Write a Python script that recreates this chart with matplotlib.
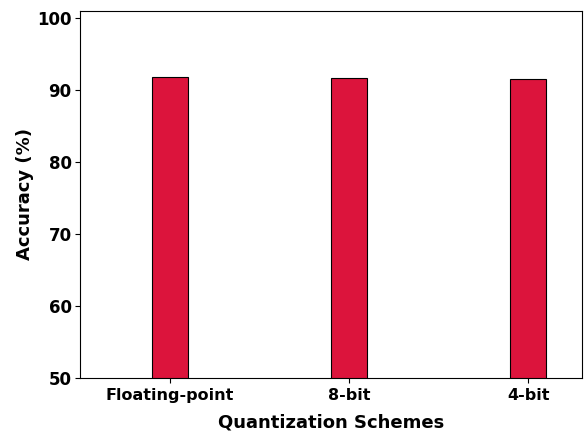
import matplotlib

matplotlib.use("Agg")
import matplotlib.pyplot as plt

schemes = ["Floating-point", "8-bit", "4-bit"]
accuracy = [91.8, 91.7, 91.55]

fig, ax = plt.subplots(figsize=(5.84, 4.32), dpi=100)
x = range(len(schemes))
ax.bar(x, accuracy, width=0.2, color="crimson", edgecolor="black", linewidth=0.8)

ax.set_xticks(list(x))
ax.set_xticklabels(schemes, fontsize=11.5, fontweight="bold")
ax.set_ylim(50, 101)
ax.set_xlim(-0.5, 2.3)
ax.set_yticks([50, 60, 70, 80, 90, 100])
ax.tick_params(axis="y", pad=2.5)
for lab in ax.get_yticklabels():
    lab.set_fontsize(12)
    lab.set_fontweight("bold")

ax.set_xlabel("Quantization Schemes", fontsize=13, fontweight="bold", labelpad=8)
ax.set_ylabel("Accuracy (%)", fontsize=13, fontweight="bold", labelpad=2)

fig.subplots_adjust(left=0.137, right=0.997, top=0.975, bottom=0.125)
fig.savefig("out.png", dpi=100)
plt.close(fig)
